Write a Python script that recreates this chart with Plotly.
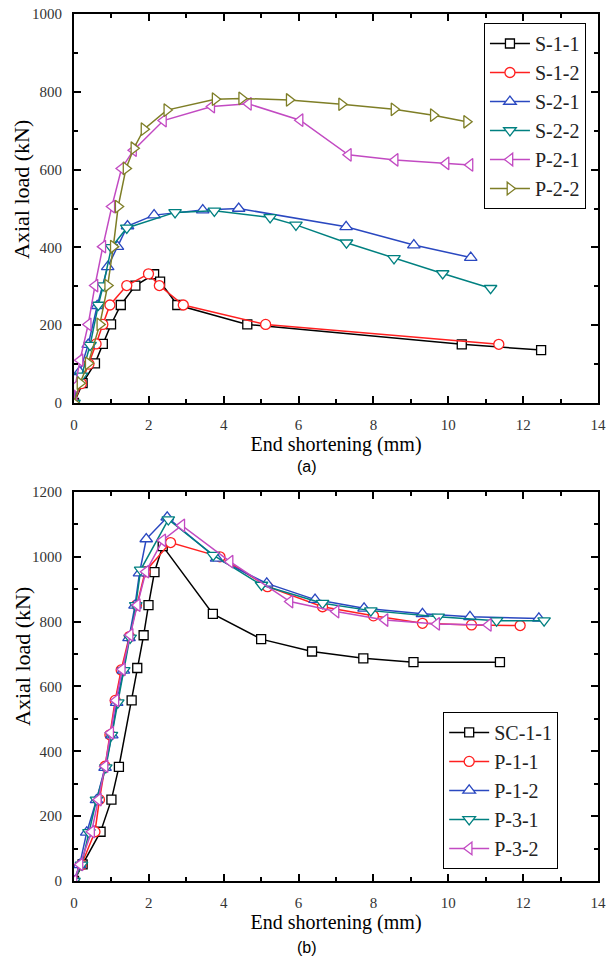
import plotly.graph_objects as go

# ---------------- (a) ----------------
a_names = ["S-1-1", "S-1-2", "S-2-1", "S-2-2", "P-2-1", "P-2-2"]
s11_x = [0, 0.23, 0.56, 0.77, 0.99, 1.25, 1.64, 2.14, 2.30, 2.76, 4.63, 10.36, 12.48]
s11_y = [0, 51, 102, 152, 202, 252, 302, 331, 312, 252, 202, 151, 136]
s12_x = [0, 0.2, 0.4, 0.59, 0.77, 0.96, 1.41, 1.99, 2.28, 2.92, 5.12, 11.35]
s12_y = [0, 50, 100, 152, 202, 252, 302, 332, 302, 252, 202, 151]
s21_x = [0, 0.15, 0.38, 0.62, 0.9, 1.16, 1.43, 2.14, 3.44, 4.40, 7.27, 9.08, 10.6]
s21_y = [0, 80, 150, 250, 350, 402, 455, 483, 496, 500, 453, 406, 374]
s22_x = [0, 0.2, 0.43, 0.65, 0.78, 1.0, 1.41, 2.70, 3.75, 5.24, 5.93, 7.28, 8.55, 9.85, 11.13]
s22_y = [0, 70, 149, 252, 302, 400, 450, 490, 494, 477, 458, 412, 372, 333, 295]
p21_x = [0, 0.03, 0.16, 0.38, 0.56, 0.77, 1.01, 1.27, 1.59, 2.39, 3.68, 4.66, 6.04, 7.33, 8.58, 9.94, 10.58]
p21_y = [0, 42, 110, 202, 302, 402, 505, 603, 650, 726, 762, 769, 727, 638, 625, 616, 612]
p22_x = [0, 0.16, 0.38, 0.69, 0.90, 1.05, 1.18, 1.39, 1.60, 1.87, 2.48, 3.77, 4.48, 5.75, 7.15, 8.55, 9.60, 10.49]
p22_y = [0, 51, 102, 202, 302, 402, 505, 603, 655, 704, 753, 781, 783, 779, 768, 755, 740, 723]

# ---------------- (b) ----------------
b_names = ["SC-1-1", "P-1-1", "P-1-2", "P-3-1", "P-3-2"]
sc11_x = [0, 0.23, 0.71, 1.0, 1.20, 1.54, 1.69, 1.86, 1.99, 2.15, 2.37, 3.71, 5.00, 6.36, 7.73, 9.07, 11.38]
sc11_y = [0, 51, 152, 251, 352, 557, 657, 758, 851, 953, 1033, 824, 746, 708, 687, 675, 675]
p11_x = [0, 0.2, 0.56, 0.68, 0.83, 0.96, 1.10, 1.26, 1.48, 1.67, 1.90, 2.58, 3.90, 5.17, 6.64, 8.0, 9.31, 10.62, 11.92]
p11_y = [0, 50, 152, 251, 354, 451, 557, 651, 754, 851, 954, 1044, 1000, 908, 846, 818, 795, 790, 788]
p12_x = [0, 0.15, 0.34, 0.60, 0.83, 1.01, 1.14, 1.32, 1.47, 1.63, 1.75, 1.93, 2.49, 3.81, 5.15, 6.44, 7.75, 9.31, 10.58, 12.42]
p12_y = [0, 50, 150, 250, 350, 450, 550, 650, 750, 850, 950, 1055, 1122, 995, 918, 868, 841, 824, 815, 810]
p31_x = [0, 0.2, 0.4, 0.6, 0.85, 1.0, 1.17, 1.33, 1.5, 1.65, 1.78, 2.52, 3.72, 5.01, 6.64, 7.93, 9.73, 11.29, 12.56]
p31_y = [0, 50, 150, 250, 350, 450, 550, 650, 750, 850, 960, 1115, 1005, 913, 857, 834, 815, 803, 803]
p32_x = [0, 0.16, 0.47, 0.65, 0.83, 0.98, 1.12, 1.29, 1.50, 1.69, 1.92, 2.37, 2.88, 4.17, 5.77, 7.0, 8.31, 9.69, 11.07]
p32_y = [0, 51, 152, 251, 354, 457, 557, 653, 759, 851, 954, 1051, 1097, 985, 862, 831, 805, 793, 790]

x_ticks = [0, 2, 4, 6, 8, 10, 12, 14]
x_title = "End shortening (mm)"
y_title = "Axial load (kN)"

colors_a = ["#000000", "#ff2020", "#2a48c0", "#008080", "#c24ac2", "#7e7e26"]
symbols_a = ["square", "circle", "triangle-up", "triangle-down", "triangle-left", "triangle-right"]
colors_b = ["#000000", "#ff2020", "#2a48c0", "#008080", "#c24ac2"]
symbols_b = ["square", "circle", "triangle-up", "triangle-down", "triangle-left"]
sizes = {"square": 9, "circle": 10, "triangle-up": 11, "triangle-down": 11,
         "triangle-left": 11, "triangle-right": 11}

SERIF = "Liberation Serif, Times New Roman, serif"
SANS = "Liberation Sans, Arial, sans-serif"

fig = go.Figure()

a_data = [(s11_x, s11_y), (s12_x, s12_y), (s21_x, s21_y), (s22_x, s22_y), (p21_x, p21_y), (p22_x, p22_y)]
for name, (xs, ys), c, s in zip(a_names, a_data, colors_a, symbols_a):
    fig.add_trace(go.Scatter(
        x=xs, y=ys, name=name, mode="lines+markers",
        line=dict(color=c, width=1.5),
        marker=dict(symbol=s, size=sizes[s], color="white", line=dict(color=c, width=1.3)),
        xaxis="x", yaxis="y", legend="legend"))

b_data = [(sc11_x, sc11_y), (p11_x, p11_y), (p12_x, p12_y), (p31_x, p31_y), (p32_x, p32_y)]
for name, (xs, ys), c, s in zip(b_names, b_data, colors_b, symbols_b):
    fig.add_trace(go.Scatter(
        x=xs, y=ys, name=name, mode="lines+markers",
        line=dict(color=c, width=1.5),
        marker=dict(symbol=s, size=sizes[s], color="white", line=dict(color=c, width=1.3)),
        xaxis="x2", yaxis="y2", legend="legend2"))

axis_common = dict(
    showline=True, linecolor="black", linewidth=2, mirror="ticks",
    ticks="inside", ticklen=7, tickwidth=1.5, tickcolor="black",
    showgrid=False, zeroline=False, automargin=False,
    tickfont=dict(family=SERIF, size=15, color="#333333"),
    ticklabelstandoff=7,
)

xa = dict(axis_common, range=[0, 14], tickvals=x_ticks,
          minor=dict(dtick=1, ticks="inside", ticklen=4, tickwidth=1.5, tickcolor="black"),
          title=dict(text=x_title, font=dict(family=SERIF, size=20, color="black"), standoff=4))

# pixel geometry of the plotting region
plot_top, plot_bottom, plot_left, plot_right = 14, 881, 74, 598


def px_to_paper(px_x, px_y):
    return ((px_x - plot_left) / (plot_right - plot_left),
            (plot_bottom - px_y) / (plot_bottom - plot_top))


annots = []
for txt, (px, py) in [("(a)", (307, 466)), ("(b)", (307, 947))]:
    ax_, ay_ = px_to_paper(px, py)
    annots.append(dict(text=txt, x=ax_, y=ay_, xref="paper", yref="paper", showarrow=False,
                       xanchor="center", yanchor="middle",
                       font=dict(family=SANS, size=16, color="black")))
for (px, py) in [(22, 190), (22, 657)]:
    ax_, ay_ = px_to_paper(px, py)
    annots.append(dict(text=y_title, x=ax_, y=ay_, xref="paper", yref="paper", showarrow=False,
                       xanchor="center", yanchor="middle", textangle=-90,
                       font=dict(family=SERIF, size=22, color="black")))

fig.update_layout(
    width=608, height=960,
    margin=dict(l=74, r=10, t=14, b=79, autoexpand=False),
    paper_bgcolor="white", plot_bgcolor="white",
    showlegend=True,
    xaxis=dict(xa, anchor="y"),
    yaxis=dict(axis_common, domain=[0.5513, 1.0], anchor="x", range=[0, 1000], dtick=200,
               minor=dict(dtick=100, ticks="inside", ticklen=4, tickwidth=1.5, tickcolor="black")),
    xaxis2=dict(xa, anchor="y2"),
    yaxis2=dict(axis_common, domain=[0.0, 0.4487], anchor="x2", range=[0, 1200], dtick=200,
                minor=dict(dtick=100, ticks="inside", ticklen=4, tickwidth=1.5, tickcolor="black")),
    legend=dict(x=0.977, y=0.9896, xanchor="right", yanchor="top",
                bgcolor="white", bordercolor="black", borderwidth=1,
                font=dict(family=SERIF, size=20, color="#222222"),
                tracegroupgap=0, itemwidth=40),
    legend2=dict(x=0.924, y=0.195, xanchor="right", yanchor="top",
                 bgcolor="white", bordercolor="black", borderwidth=1,
                 font=dict(family=SERIF, size=20, color="#222222"),
                 tracegroupgap=0, itemwidth=40),
    annotations=annots,
)

fig.write_html("out.html", config={"displayModeBar": False},
               post_script="document.body.style.margin='0';")
